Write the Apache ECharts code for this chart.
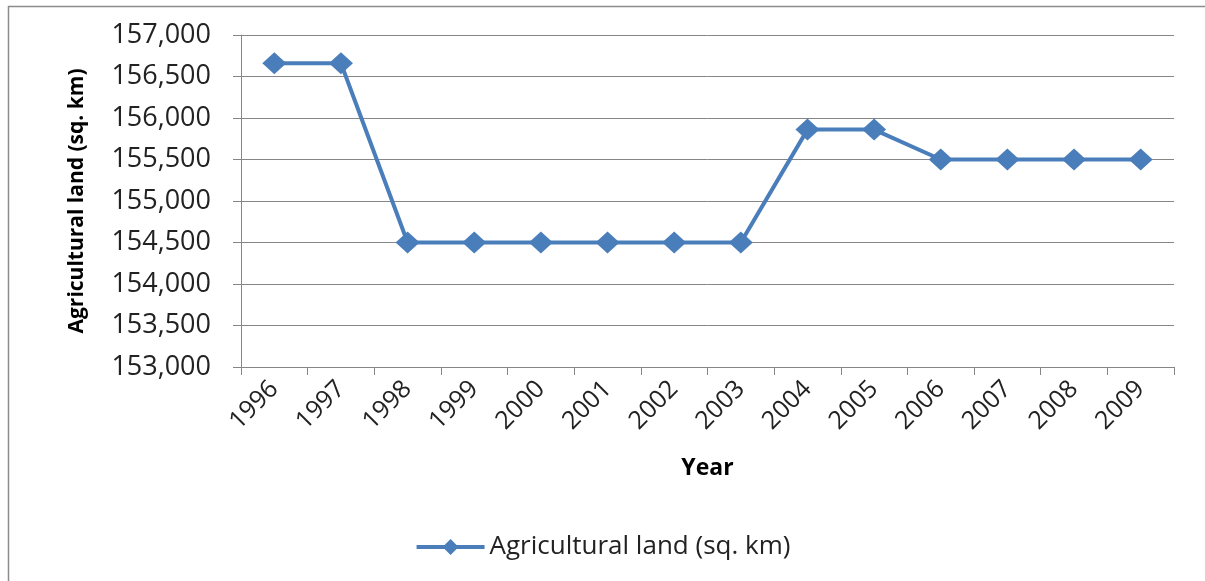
<!DOCTYPE html>
<html>
<head>
<meta charset="utf-8">
<script src="https://cdn.jsdelivr.net/npm/echarts@6/dist/echarts.min.js"></script>
<style>
  html, body { margin: 0; padding: 0; background: #fff; }
  #chart { width: 1205px; height: 581px; }
</style>
</head>
<body>
<div id="chart"></div>
<script>
const years = ['1996', '1997', '1998', '1999', '2000', '2001', '2002', '2003', '2004', '2005', '2006', '2007', '2008', '2009']
const landArea = [156660, 156660, 154500, 154500, 154500, 154500, 154500, 154500, 155860, 155860, 155500, 155500, 155500, 155500]
const seriesName = 'Agricultural land (sq. km)'

const font = 'Open Sans'
const gray = '#868686'
const blue = '#4a7ebb'

const fmt = v => String(v).replace(/\B(?=(\d{3})+(?!\d))/g, ',')

const chart = echarts.init(document.getElementById('chart'))
chart.setOption({
  animation: false,
  textStyle: { fontFamily: font },
  graphic: [{
    type: 'rect',
    shape: { x: 8.5, y: 6.5, width: 1400, height: 800 },
    style: { fill: 'none', stroke: '#8c8c8c', lineWidth: 1.5 },
    silent: true
  }],
  grid: { left: 241, right: 31, top: 35, bottom: 214 },
  legend: {
    data: [seriesName],
    left: 'center',
    top: 529,
    itemWidth: 68,
    itemHeight: 20,
    itemGap: 6,
    lineStyle: { width: 4 },
    textStyle: { fontFamily: font, fontSize: 26, color: '#222' }
  },
  xAxis: {
    type: 'category',
    data: years,
    boundaryGap: true,
    name: 'Year',
    nameLocation: 'middle',
    nameGap: 90,
    nameTextStyle: { fontFamily: font, fontSize: 23, fontWeight: 'bold', color: '#000' },
    axisLine: { lineStyle: { color: gray, width: 1 } },
    axisTick: { show: true, length: 8, lineStyle: { color: gray } },
    axisLabel: { rotate: 45, fontSize: 25, color: '#222', margin: 18, interval: 0 },
    splitLine: { show: false }
  },
  yAxis: {
    type: 'value',
    min: 153000,
    max: 157000,
    interval: 500,
    name: seriesName,
    nameLocation: 'middle',
    nameGap: 153,
    nameTextStyle: { fontFamily: font, fontSize: 21, fontWeight: 'bold', color: '#000' },
    axisLine: { show: true, lineStyle: { color: gray, width: 1 } },
    axisTick: { show: true, length: 8, lineStyle: { color: gray } },
    axisLabel: { fontSize: 27, color: '#222', margin: 30, formatter: fmt },
    splitLine: { lineStyle: { color: gray, width: 1 } }
  },
  series: [{
    name: seriesName,
    type: 'line',
    data: landArea,
    symbol: 'diamond',
    symbolSize: [24, 22],
    lineStyle: { color: blue, width: 4 },
    itemStyle: { color: blue }
  }]
})
</script>
</body>
</html>
